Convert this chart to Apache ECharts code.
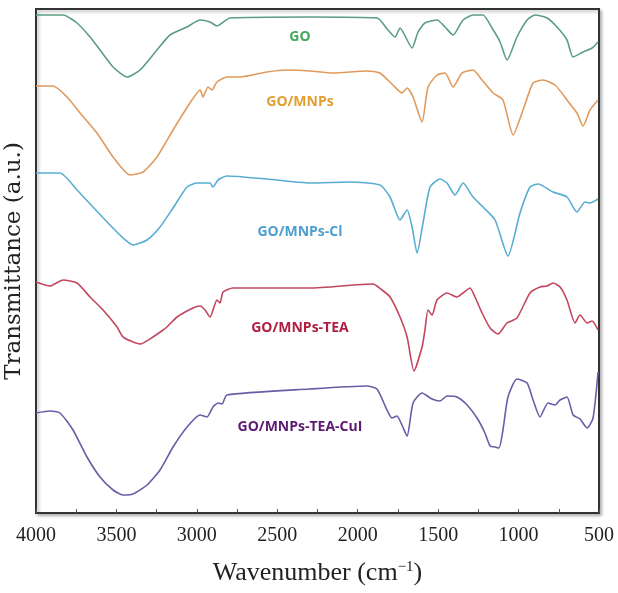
<!DOCTYPE html>
<html>
<head>
<meta charset="utf-8">
<script src="https://cdn.jsdelivr.net/npm/echarts@6/dist/echarts.min.js"></script>
<style>
  html, body { margin: 0; padding: 0; background: #fff; }
  #chart { width: 618px; height: 593px; }
</style>
</head>
<body>
<div id="chart"></div>
<script>
'use strict';

// wavenumber (cm-1) and transmittance (a.u., stacked offsets)
const goWn = [4000, 3832, 3745, 3664, 3602, 3521, 3434, 3353, 3248, 3167, 3061, 2980, 2918, 2875, 2794, 2297, 1880, 1812, 1768, 1737, 1662, 1625, 1582, 1507, 1457, 1407, 1345, 1283, 1221, 1165, 1115, 1072, 1010, 947, 898, 823, 761, 699, 661, 599, 543, 506];
const goT = [498, 498, 490, 476, 463, 446, 436, 443, 463, 478, 486, 493, 491, 487, 495, 496, 495, 483, 476, 485, 465, 481, 490, 493, 486, 478, 493, 498, 498, 485, 471, 453, 476, 493, 498, 495, 486, 473, 456, 461, 465, 471];

const mnpWn = [4000, 3894, 3807, 3726, 3621, 3521, 3416, 3335, 3248, 3148, 3043, 2980, 2962, 2931, 2906, 2875, 2813, 2732, 2564, 2440, 2297, 2154, 1942, 1862, 1781, 1725, 1693, 1656, 1600, 1563, 1507, 1457, 1407, 1352, 1283, 1227, 1159, 1097, 1034, 972, 910, 848, 773, 699, 637, 599, 556, 506];
const mnpT = [427, 427, 416, 400, 380, 356, 338, 341, 356, 383, 410, 423, 416, 426, 423, 431, 436, 436, 441, 443, 442, 440, 442, 440, 428, 420, 425, 416, 391, 426, 438, 440, 426, 440, 443, 433, 420, 413, 378, 403, 430, 433, 428, 413, 400, 387, 403, 413];

const clWn = [4000, 3851, 3745, 3646, 3540, 3459, 3397, 3310, 3229, 3148, 3061, 2999, 2918, 2900, 2868, 2813, 2564, 2297, 2048, 1862, 1799, 1737, 1693, 1662, 1631, 1594, 1550, 1488, 1445, 1395, 1345, 1283, 1221, 1146, 1066, 991, 929, 879, 786, 699, 637, 587, 556, 506];
const clT = [340, 340, 323, 306, 288, 275, 268, 273, 286, 305, 326, 330, 330, 326, 333, 337, 334, 330, 331, 328, 316, 293, 303, 286, 260, 290, 326, 334, 330, 318, 330, 316, 306, 293, 257, 300, 326, 329, 321, 316, 301, 311, 310, 314];

const teaWn = [4000, 3913, 3832, 3745, 3664, 3583, 3496, 3459, 3353, 3273, 3210, 3186, 3123, 3024, 2980, 2949, 2918, 2875, 2856, 2837, 2775, 2297, 1905, 1849, 1799, 1737, 1693, 1650, 1600, 1582, 1563, 1538, 1507, 1445, 1383, 1345, 1302, 1271, 1227, 1177, 1128, 1072, 1010, 929, 867, 823, 786, 742, 699, 649, 618, 574, 543, 506];
const teaT = [231, 227, 233, 230, 216, 203, 186, 176, 169, 176, 183, 186, 196, 205, 207, 203, 196, 213, 210, 221, 225, 225, 229, 223, 216, 196, 176, 142, 166, 183, 203, 198, 213, 220, 216, 220, 225, 216, 200, 185, 179, 190, 195, 220, 226, 227, 230, 226, 213, 190, 198, 190, 192, 183];

const cuWn = [4000, 3913, 3851, 3770, 3683, 3602, 3521, 3459, 3397, 3310, 3229, 3148, 3061, 2980, 2937, 2900, 2868, 2844, 2813, 2297, 1942, 1880, 1818, 1787, 1756, 1725, 1693, 1656, 1600, 1538, 1488, 1445, 1383, 1320, 1258, 1209, 1177, 1146, 1122, 1097, 1066, 1010, 947, 910, 867, 817, 773, 742, 699, 661, 618, 574, 537, 506];
const cuT = [100, 102, 100, 83, 56, 36, 23, 18, 19, 28, 43, 66, 86, 98, 96, 106, 110, 109, 118, 124, 127, 124, 103, 95, 97, 88, 77, 110, 120, 114, 112, 117, 116, 108, 95, 80, 67, 66, 65, 83, 116, 134, 130, 113, 96, 110, 108, 113, 116, 98, 94, 85, 95, 141];

const names = ['GO', 'GO/MNPs', 'GO/MNPs-Cl', 'GO/MNPs-TEA', 'GO/MNPs-TEA-CuI'];
// where each sample name sits (wavenumber, transmittance)
const labelWn = 2359;
const labelT = [476, 411, 281, 185, 86];

const lineColors = ['#5b9e80', '#e09a5c', '#58aed2', '#c2465e', '#6a5ca6'];
const textColors = ['#45a85a', '#e0a032', '#4d9fd2', '#b11d40', '#5c1a70'];

const spectra = [
  [goWn, goT],
  [mnpWn, mnpT],
  [clWn, clT],
  [teaWn, teaT],
  [cuWn, cuT]
];

const chart = echarts.init(document.getElementById('chart'), null, { renderer: 'canvas' });

const series = spectra.map(([wn, t], i) => ({
  name: names[i],
  type: 'line',
  data: wn.map((w, k) => [w, t[k]]),
  showSymbol: false,
  smooth: 0.2,
  lineStyle: { color: lineColors[i], width: 1.6 },
  silent: true,
  markPoint: {
    symbol: 'circle',
    symbolSize: 0,
    silent: true,
    data: [{ coord: [labelWn, labelT[i]] }],
    label: {
      show: true,
      position: 'inside',
      formatter: names[i],
      color: textColors[i],
      fontFamily: '"Open Sans", sans-serif',
      fontWeight: 'bold',
      fontSize: 14
    }
  }
}));

chart.setOption({
  animation: false,
  backgroundColor: '#fff',
  grid: {
    left: 36, right: 19, top: 9, bottom: 80,
    outerBoundsMode: 'none',
    show: true,
    backgroundColor: '#fff',
    borderColor: '#333',
    borderWidth: 2,
    shadowColor: 'rgba(0,0,0,0.25)',
    shadowBlur: 3,
    shadowOffsetX: 2,
    shadowOffsetY: 2
  },
  xAxis: {
    type: 'value',
    min: 500,
    max: 4000,
    interval: 500,
    inverse: true,
    name: '{a|Wavenumber (cm}{s|−1}{a|)}',
    nameLocation: 'middle',
    nameGap: 47,
    nameTextStyle: {
      rich: {
        a: { fontFamily: '"Liberation Serif", serif', fontSize: 26, color: '#222' },
        s: { fontFamily: '"Liberation Serif", serif', fontSize: 15, color: '#222', padding: [0, 0, 12, 0] }
      }
    },
    axisLine: { show: true, lineStyle: { color: '#333', width: 2 } },
    axisTick: { show: true, inside: true, length: 4, lineStyle: { color: '#555' } },
    minorTick: { show: true, splitNumber: 2, length: 4, lineStyle: { color: '#555' } },
    axisLabel: {
      margin: 13,
      color: '#222',
      fontFamily: '"Liberation Serif", serif',
      fontSize: 20,
      formatter: v => String(v)
    },
    splitLine: { show: false }
  },
  yAxis: {
    type: 'value',
    min: 0,
    max: 504,
    name: 'Transmittance (a.u.)',
    nameLocation: 'middle',
    nameGap: 10,
    nameTextStyle: {
      fontFamily: '"DejaVu Serif", serif',
      fontSize: 23,
      color: '#222'
    },
    axisLine: { show: true, lineStyle: { color: '#333', width: 2 } },
    axisTick: { show: false },
    axisLabel: { show: false },
    splitLine: { show: false }
  },
  series: series
});
</script>
</body>
</html>
